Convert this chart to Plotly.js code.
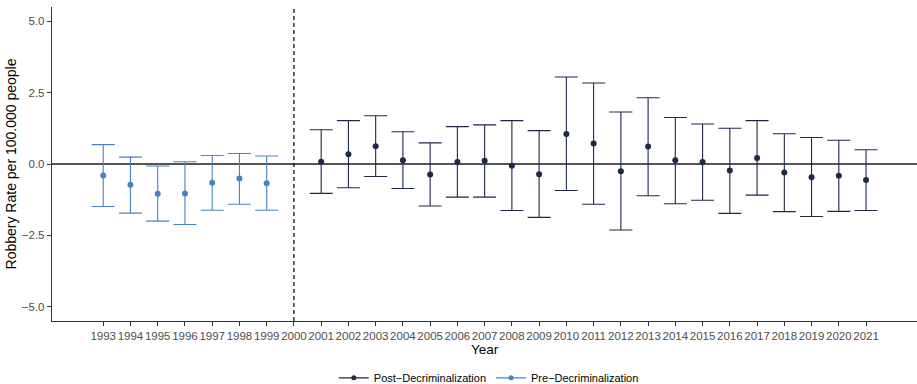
<!DOCTYPE html>
<html>
<head>
<meta charset="utf-8">
<script src="https://cdn.plot.ly/plotly-3.0.1.min.js"></script>
<style>html,body{margin:0;padding:0;background:#fff;}#chart{width:917px;height:384px;}</style>
</head>
<body>
<div id="chart"></div>
<script>
const preYears = [1993, 1994, 1995, 1996, 1997, 1998, 1999];
const preEst   = [-0.40, -0.73, -1.04, -1.03, -0.66, -0.51, -0.67];
const preLow   = [-1.49, -1.72, -2.00, -2.12, -1.62, -1.41, -1.62];
const preHigh  = [0.68, 0.24, -0.07, 0.08, 0.30, 0.37, 0.28];

const postYears = [2001, 2002, 2003, 2004, 2005, 2006, 2007, 2008, 2009, 2010, 2011, 2012, 2013, 2014, 2015, 2016, 2017, 2018, 2019, 2020, 2021];
const postEst   = [0.08, 0.34, 0.62, 0.13, -0.37, 0.07, 0.11, -0.06, -0.36, 1.05, 0.72, -0.25, 0.61, 0.13, 0.07, -0.23, 0.21, -0.30, -0.46, -0.41, -0.56];
const postLow   = [-1.03, -0.83, -0.44, -0.86, -1.47, -1.16, -1.16, -1.63, -1.87, -0.93, -1.41, -2.31, -1.11, -1.39, -1.27, -1.73, -1.09, -1.67, -1.84, -1.66, -1.63];
const postHigh  = [1.20, 1.52, 1.69, 1.13, 0.74, 1.31, 1.37, 1.52, 1.17, 3.05, 2.84, 1.82, 2.32, 1.63, 1.40, 1.25, 1.52, 1.06, 0.93, 0.83, 0.50];

const tickYears = [];
for (let y = 1993; y <= 2021; y++) tickYears.push(y);
const cutoffYear = 2000;

const postName = "Post\u2212Decriminalization";
const preName = "Pre\u2212Decriminalization";
const postColor = "#1f2947";
const preColor = "#4a80c8";

function errTrace(xs, est, lo, hi, color) {
  return {
    type: "scatter", mode: "markers", x: xs, y: est, showlegend: false, hoverinfo: "skip",
    marker: {color: color, size: 6},
    error_y: {
      type: "data", symmetric: false,
      array: hi.map((h, i) => h - est[i]),
      arrayminus: lo.map((l, i) => est[i] - l),
      color: color, thickness: 1.1, width: 11.5
    }
  };
}

const data = [
  errTrace(postYears, postEst, postLow, postHigh, postColor),
  errTrace(preYears, preEst, preLow, preHigh, preColor),
  {type: "scatter", mode: "lines+markers", x: [null], y: [null], name: postName,
   line: {color: postColor, width: 1.1}, marker: {color: postColor, size: 5}},
  {type: "scatter", mode: "lines+markers", x: [null], y: [null], name: preName,
   line: {color: preColor, width: 1.1}, marker: {color: preColor, size: 5}}
];

const font = "Liberation Sans, Arial, sans-serif";
const layout = {
  width: 917, height: 384,
  margin: {l: 52, r: 0, t: 7, b: 63},
  paper_bgcolor: "#fff", plot_bgcolor: "#fff",
  font: {family: font, color: "#000"},
  xaxis: {
    range: [1991.12, 2022.87],
    tickvals: tickYears, ticktext: tickYears.map(String),
    showgrid: false, zeroline: false,
    showline: true, linecolor: "#333", linewidth: 1.2,
    ticks: "outside", ticklen: 4, tickcolor: "#333", tickwidth: 1,
    tickfont: {size: 11.5, color: "#4d4d4d", family: font},
    tickangle: 0
  },
  yaxis: {
    range: [-5.5, 5.5],
    tickvals: [-5, -2.5, 0, 2.5, 5],
    ticktext: ["\u22125.0", "\u22122.5", "0.0", "2.5", "5.0"],
    showgrid: false,
    zeroline: true, zerolinecolor: "#555", zerolinewidth: 1.3,
    showline: true, linecolor: "#333", linewidth: 1.2,
    ticks: "outside", ticklen: 4, tickcolor: "#333", tickwidth: 1,
    tickfont: {size: 11.5, color: "#4d4d4d", family: font},
    title: {text: "Robbery Rate per 100.000 people", font: {size: 14, color: "#000", family: font}, standoff: 1}
  },
  annotations: [{
    text: "Year", xref: "paper", yref: "paper", x: 0.5, y: -0.092,
    xanchor: "center", yanchor: "middle", showarrow: false,
    font: {size: 13.5, color: "#000", family: font}
  }],
  shapes: [{
    type: "line", xref: "x", yref: "paper", x0: cutoffYear, x1: cutoffYear, y0: 0, y1: 1,
    line: {color: "#000", width: 1.2, dash: "4px,3px"}, layer: "above"
  }],
  showlegend: true,
  legend: {
    orientation: "h", xref: "paper", x: 0.505, xanchor: "center",
    yref: "container", y: 0.016, yanchor: "middle",
    font: {size: 11, color: "#000", family: font},
    itemwidth: 30, bgcolor: "rgba(0,0,0,0)"
  }
};

Plotly.newPlot("chart", data, layout, {displayModeBar: false, staticPlot: true});
</script>
</body>
</html>
